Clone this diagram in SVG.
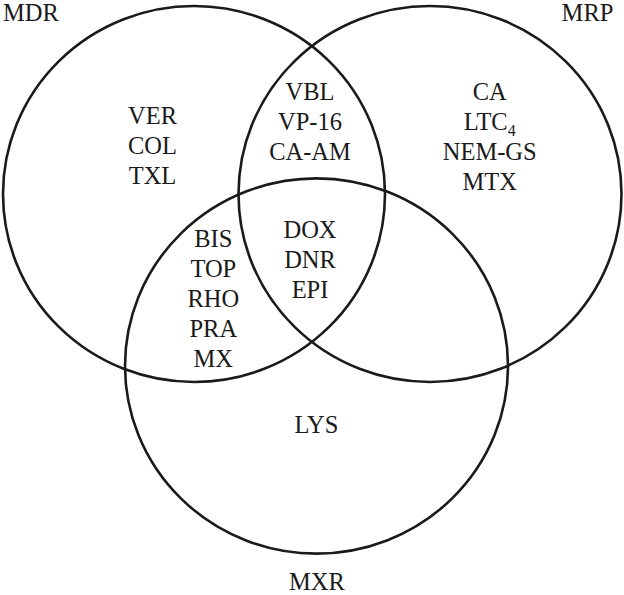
<svg xmlns="http://www.w3.org/2000/svg" width="624" height="595" viewBox="0 0 624 595">
<style>
.c{fill:none;stroke:#1a1a1a;stroke-width:2.6}
text{font-family:"Liberation Serif","Times New Roman",serif;font-size:24.5px;fill:#1a1a1a;text-anchor:middle}
.l{text-anchor:start}
</style>
<rect width="624" height="595" fill="#fff"/>
<g id="MDR">
<ellipse class="c" cx="194" cy="194" rx="191" ry="188"/>
<text class="l" x="3" y="21">MDR</text>
<text x="152.5" y="124">VER</text>
<text x="152.5" y="154">COL</text>
<text x="152.5" y="183.5">TXL</text>
</g>
<g id="MRP">
<ellipse class="c" cx="430" cy="194" rx="191.5" ry="188"/>
<text x="587.5" y="21">MRP</text>
<text x="489.7" y="100">CA</text>
<text x="489.7" y="130">LTC<tspan dy="5.5" font-size="16">4</tspan></text>
<text x="489.7" y="159.5">NEM-GS</text>
<text x="489.7" y="189.5">MTX</text>
</g>
<g id="MXR">
<ellipse class="c" cx="316.5" cy="366" rx="191.5" ry="187.6"/>
<text x="316.5" y="433">LYS</text>
<text x="317" y="590">MXR</text>
</g>
<g id="MDR_MRP">
<text x="310" y="100">VBL</text>
<text x="310" y="129.5">VP-16</text>
<text x="310" y="159.5">CA-AM</text>
</g>
<g id="MDR_MXR">
<text x="213.3" y="246.7">BIS</text>
<text x="213.3" y="276.7">TOP</text>
<text x="213.3" y="307">RHO</text>
<text x="213.3" y="336.7">PRA</text>
<text x="213.3" y="366.7">MX</text>
</g>
<g id="ALL">
<text x="310" y="238.3">DOX</text>
<text x="310" y="268.3">DNR</text>
<text x="310" y="298.3">EPI</text>
</g>
<g id="connectors"></g>
</svg>
